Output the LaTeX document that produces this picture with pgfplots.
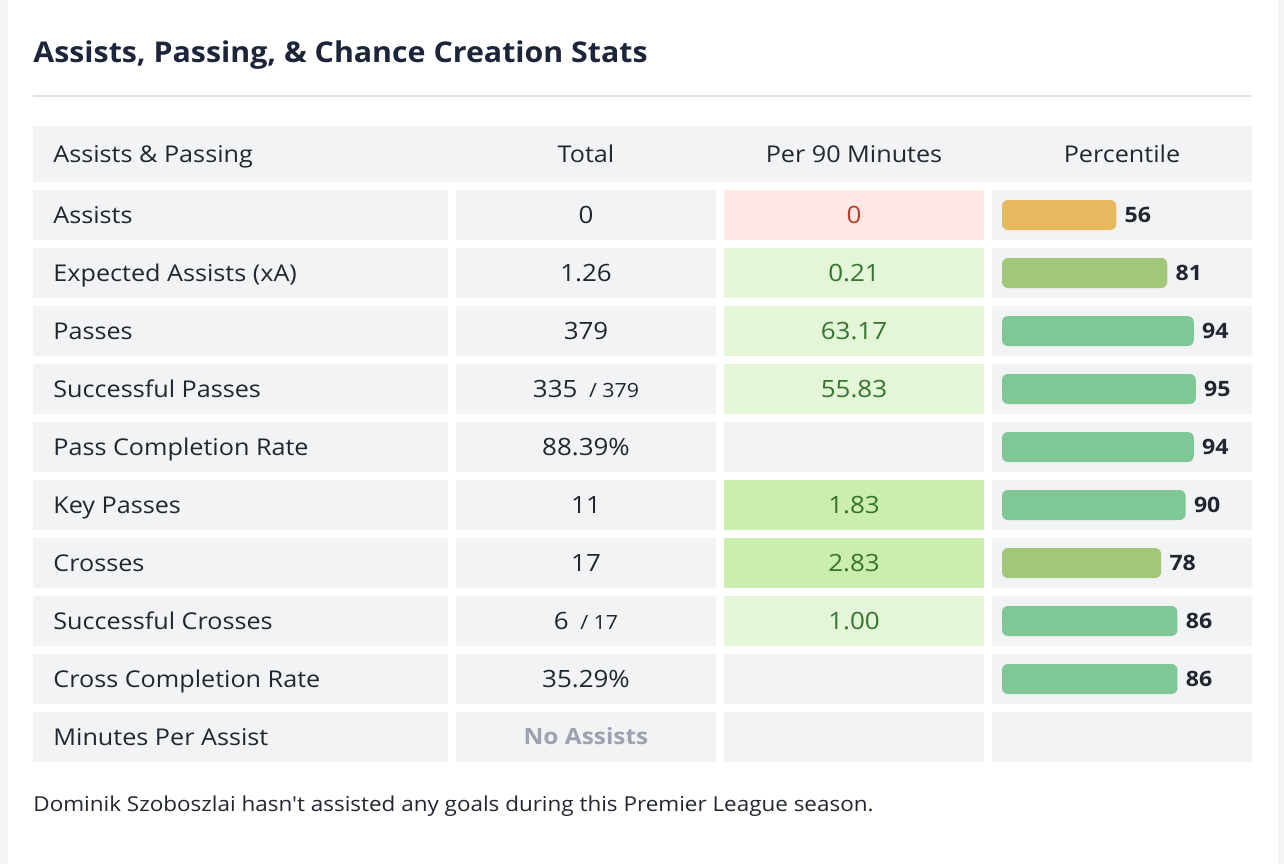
\documentclass[border=0pt]{standalone}
\usepackage{pgfplots}
\pgfplotsset{compat=1.18}
\usepackage{pgfplotstable}
\usepackage{fontspec}
\setmainfont{Open Sans}[FakeStretch=1.09]
\newfontfamily\titlefam{Open Sans}[FakeStretch=1.06]
\newfontfamily\notefam{Open Sans}[FakeStretch=1.09]
\definecolor{bggray}{HTML}{F3F4F6}
\definecolor{cellgray}{HTML}{F2F3F5}
\definecolor{txt}{HTML}{222630}
\definecolor{ttl}{HTML}{1C2539}
\definecolor{sep}{HTML}{E0E1E3}
\definecolor{redcell}{HTML}{FDE8E6}
\definecolor{redtxt}{HTML}{BD3A25}
\definecolor{lgreen}{HTML}{E3F6D8}
\definecolor{mgreen}{HTML}{CBEEB0}
\definecolor{gtxt}{HTML}{37752F}
\definecolor{barO}{HTML}{E6B95E}
\definecolor{barL}{HTML}{A0C878}
\definecolor{barG}{HTML}{80C796}
\definecolor{noas}{HTML}{9CA3AF}

\newcommand\titlefont{\titlefam\fontsize{14.3pt}{16pt}\selectfont\bfseries}
\newcommand\labfont{\fontsize{11.55pt}{13pt}\selectfont}
\newcommand\valfont{\fontsize{11.9pt}{13pt}\selectfont}
\newcommand\smallfont{\fontsize{9.8pt}{11pt}\selectfont}
\newcommand\pctfont{\fontsize{10.6pt}{12pt}\selectfont\bfseries}
\newcommand\notefont{\notefam\fontsize{10.3pt}{12pt}\selectfont}
\newcommand\nafont{\fontsize{11.2pt}{13pt}\selectfont\bfseries}

% percentile data: yc = row centre (px), pct = percentile
\pgfplotstableread{
yc pct
215 56
}\pctO
\pgfplotstableread{
yc pct
273 81
563 78
}\pctL
\pgfplotstableread{
yc pct
331 94
389 95
447 94
505 90
621 86
679 86
}\pctG

\begin{document}
\begin{tikzpicture}
\begin{axis}[at={(0pt,0pt)}, anchor=south west, x=0.5pt, y=0.5pt, y dir=reverse,
  xmin=0, xmax=1284, ymin=0, ymax=864, hide axis, scale only axis, clip=false]
% page background
\fill[bggray] (axis cs:0,0) rectangle (axis cs:1284,864);
\fill[white] (axis cs:8,0) rectangle (axis cs:1278,864);
% title
\node[anchor=base west, font=\titlefont, text=ttl, inner sep=0pt] at (axis cs:33,62) {Assists, Passing, \& Chance Creation Stats};
\draw[sep, line width=1pt] (axis cs:33,96) -- (axis cs:1252,96);
% header
\fill[cellgray] (axis cs:33,126) rectangle (axis cs:1252,182);
\node[anchor=base west, font=\labfont, text=txt, inner sep=0pt] at (axis cs:53,162) {Assists \& Passing};
\node[anchor=base, font=\labfont, text=txt, inner sep=0pt] at (axis cs:586,162) {Total};
\node[anchor=base, font=\labfont, text=txt, inner sep=0pt] at (axis cs:854,162) {Per 90 Minutes};
\node[anchor=base, font=\labfont, text=txt, inner sep=0pt] at (axis cs:1122,162) {Percentile};
% cells
\pgfplotsinvokeforeach{0,...,9}{
  \fill[cellgray] (axis cs:33,{190+58*#1}) rectangle (axis cs:448,{240+58*#1});
  \fill[cellgray] (axis cs:456,{190+58*#1}) rectangle (axis cs:716,{240+58*#1});
  \fill[cellgray] (axis cs:724,{190+58*#1}) rectangle (axis cs:984,{240+58*#1});
  \fill[cellgray] (axis cs:992,{190+58*#1}) rectangle (axis cs:1252,{240+58*#1});
}
% per-90 cell shading
\fill[redcell] (axis cs:724,190) rectangle (axis cs:984,240);
\fill[lgreen] (axis cs:724,248) rectangle (axis cs:984,298);
\fill[lgreen] (axis cs:724,306) rectangle (axis cs:984,356);
\fill[lgreen] (axis cs:724,364) rectangle (axis cs:984,414);
\fill[mgreen] (axis cs:724,480) rectangle (axis cs:984,530);
\fill[mgreen] (axis cs:724,538) rectangle (axis cs:984,588);
\fill[lgreen] (axis cs:724,596) rectangle (axis cs:984,646);
% row labels
\node[anchor=base west, font=\labfont, text=txt, inner sep=0pt] at (axis cs:53,223) {Assists};
\node[anchor=base west, font=\labfont, text=txt, inner sep=0pt] at (axis cs:53,281) {Expected Assists (xA)};
\node[anchor=base west, font=\labfont, text=txt, inner sep=0pt] at (axis cs:53,339) {Passes};
\node[anchor=base west, font=\labfont, text=txt, inner sep=0pt] at (axis cs:53,397) {Successful Passes};
\node[anchor=base west, font=\labfont, text=txt, inner sep=0pt] at (axis cs:53,455) {Pass Completion Rate};
\node[anchor=base west, font=\labfont, text=txt, inner sep=0pt] at (axis cs:53,513) {Key Passes};
\node[anchor=base west, font=\labfont, text=txt, inner sep=0pt] at (axis cs:53,571) {Crosses};
\node[anchor=base west, font=\labfont, text=txt, inner sep=0pt] at (axis cs:53,629) {Successful Crosses};
\node[anchor=base west, font=\labfont, text=txt, inner sep=0pt] at (axis cs:53,687) {Cross Completion Rate};
\node[anchor=base west, font=\labfont, text=txt, inner sep=0pt] at (axis cs:53,745) {Minutes Per Assist};
% totals
\node[anchor=base, font=\valfont, text=txt, inner sep=0pt] at (axis cs:586,223) {0};
\node[anchor=base, font=\valfont, text=txt, inner sep=0pt] at (axis cs:586,281) {1.26};
\node[anchor=base, font=\valfont, text=txt, inner sep=0pt] at (axis cs:586,339) {379};
\node[anchor=base, font=\valfont, text=txt, inner sep=0pt] at (axis cs:586,397) {335\hspace{3pt}{\smallfont\ / 379}};
\node[anchor=base, font=\valfont, text=txt, inner sep=0pt] at (axis cs:586,455) {88.39\%};
\node[anchor=base, font=\valfont, text=txt, inner sep=0pt] at (axis cs:586,513) {11};
\node[anchor=base, font=\valfont, text=txt, inner sep=0pt] at (axis cs:586,571) {17};
\node[anchor=base, font=\valfont, text=txt, inner sep=0pt] at (axis cs:586,629) {6\hspace{3pt}{\smallfont\ / 17}};
\node[anchor=base, font=\valfont, text=txt, inner sep=0pt] at (axis cs:586,687) {35.29\%};
\node[anchor=base, font=\nafont, text=noas, inner sep=0pt] at (axis cs:586,744) {No Assists};
% per 90
\node[anchor=base, font=\valfont, text=redtxt, inner sep=0pt] at (axis cs:854,223) {0};
\node[anchor=base, font=\valfont, text=gtxt, inner sep=0pt] at (axis cs:854,281) {0.21};
\node[anchor=base, font=\valfont, text=gtxt, inner sep=0pt] at (axis cs:854,339) {63.17};
\node[anchor=base, font=\valfont, text=gtxt, inner sep=0pt] at (axis cs:854,397) {55.83};
\node[anchor=base, font=\valfont, text=gtxt, inner sep=0pt] at (axis cs:854,513) {1.83};
\node[anchor=base, font=\valfont, text=gtxt, inner sep=0pt] at (axis cs:854,571) {2.83};
\node[anchor=base, font=\valfont, text=gtxt, inner sep=0pt] at (axis cs:854,629) {1.00};
% footnote
\node[anchor=base west, font=\notefont, text=txt, inner sep=0pt] at (axis cs:33,811) {Dominik Szoboszlai hasn't assisted any goals during this Premier League season.};
\end{axis}
% percentile bars
\begin{axis}[at={(501pt,0pt)}, anchor=south west, x=1.02pt, y=0.5pt, y dir=reverse,
  xmin=0, xmax=100, ymin=0, ymax=864, hide axis, scale only axis, clip=false,
  /pgf/number format/assume math mode=true,
  nodes near coords, point meta=x,
  every node near coord/.append style={font=\pctfont, text=txt, anchor=west, inner sep=0pt, xshift=4pt}]
\addplot[xbar, bar shift=0pt, bar width=15pt, fill=barO, draw=none, rounded corners=3pt] table[x=pct, y=yc] {\pctO};
\addplot[xbar, bar shift=0pt, bar width=15pt, fill=barL, draw=none, rounded corners=3pt] table[x=pct, y=yc] {\pctL};
\addplot[xbar, bar shift=0pt, bar width=15pt, fill=barG, draw=none, rounded corners=3pt] table[x=pct, y=yc] {\pctG};
\end{axis}
\end{tikzpicture}
\end{document}
